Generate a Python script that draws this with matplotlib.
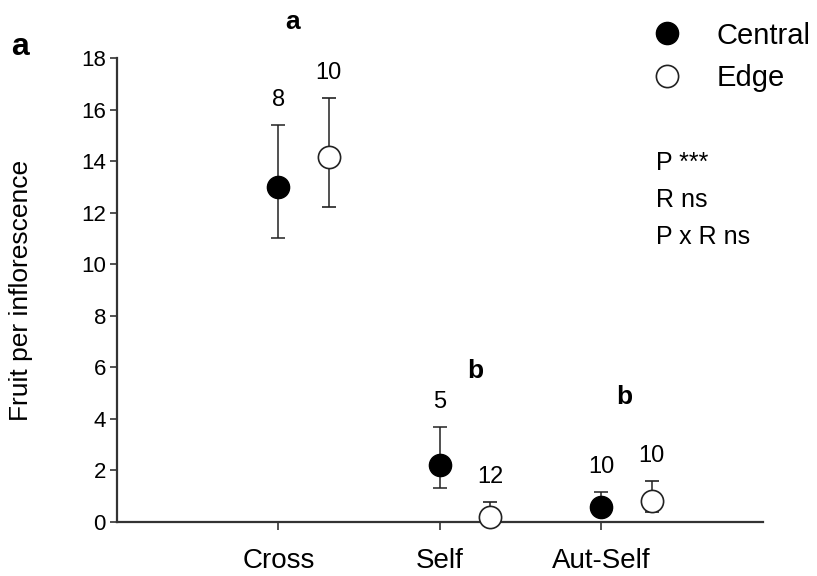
import matplotlib
matplotlib.use('Agg')
import matplotlib.pyplot as plt
import numpy as np

plt.rcParams['font.family'] = ['Liberation Sans', 'DejaVu Sans']

CATEGORIES = ['Cross', 'Self', 'Aut-Self']
CENTRAL_MEAN = [13.0, 2.2, 0.57]
CENTRAL_LOW = [11.0, 1.3, 0.57]
CENTRAL_HIGH = [15.4, 3.7, 1.18]
EDGE_MEAN = [14.15, 0.18, 0.80]
EDGE_LOW = [12.2, 0.18, 0.39]
EDGE_HIGH = [16.45, 0.78, 1.58]
CENTRAL_N = ['8', '5', '10']
EDGE_N = ['10', '12', '10']
GROUP_LETTERS = ['a', 'b', 'b']
STATS_LINES = ['P ***', 'R ns', 'P x R ns']

xpos = np.arange(1, len(CATEGORIES) + 1)
edge_shift = 0.31

fig = plt.figure(figsize=(8.17, 5.76), dpi=100)
ax = fig.add_axes([0.1432, 0.0938, 0.7907, 0.8056])

cm = np.array(CENTRAL_MEAN)
em = np.array(EDGE_MEAN)
c_err = [cm - np.array(CENTRAL_LOW), np.array(CENTRAL_HIGH) - cm]
e_err = [em - np.array(EDGE_LOW), np.array(EDGE_HIGH) - em]

hc = ax.errorbar(xpos, cm, yerr=c_err, fmt='o', color='black', ecolor='#222222',
                 elinewidth=1.1, capsize=5, capthick=1.1, markersize=16,
                 markerfacecolor='black', markeredgecolor='black', zorder=3, clip_on=False)
he = ax.errorbar(xpos + edge_shift, em, yerr=e_err, fmt='o', color='black', ecolor='#222222',
                 elinewidth=1.1, capsize=5, capthick=1.1, markersize=16,
                 markerfacecolor='white', markeredgecolor='#222222', markeredgewidth=1.2,
                 zorder=3, clip_on=False)

for i in range(len(CATEGORIES)):
    ax.annotate(CENTRAL_N[i], (xpos[i], CENTRAL_HIGH[i]), xytext=(0, 10),
                textcoords='offset points', ha='center', va='bottom', fontsize=17)
    ax.annotate(EDGE_N[i], (xpos[i] + edge_shift, EDGE_HIGH[i]), xytext=(0, 10),
                textcoords='offset points', ha='center', va='bottom', fontsize=17)

letter_xy = [(1.087, 19.4), (2.22, 5.86), (3.14, 4.85)]
for (lx, ly), lt in zip(letter_xy, GROUP_LETTERS):
    ax.text(lx, ly, lt, ha='center', va='center', fontsize=19, fontweight='bold', clip_on=False)

ax.set_xlim(0, 4)
ax.set_ylim(0, 18)
ax.set_xticks(xpos)
ax.set_xticklabels(CATEGORIES, fontsize=20)
ax.set_yticks(np.arange(0, 19, 2))
ax.tick_params(axis='y', labelsize=16, length=5, width=1.2, color='#333333', pad=3)
ax.tick_params(axis='x', length=6, width=1.2, color='#333333', pad=13)
for s in ['top', 'right']:
    ax.spines[s].set_visible(False)
for s in ['left', 'bottom']:
    ax.spines[s].set_linewidth(1.6)
    ax.spines[s].set_color('#333333')

ax.set_ylabel('Fruit per inflorescence', fontsize=19)
ax.yaxis.set_label_coords(-0.13, 0.5)

fig.text(0.025, 0.918, 'a', fontsize=23, fontweight='bold', ha='center', va='center')

leg = fig.legend([hc[0], he[0]], ['Central', 'Edge'], loc='upper left',
                 bbox_to_anchor=(0.766, 1.008), frameon=False, fontsize=21,
                 handlelength=1.0, handletextpad=1.2, labelspacing=0.5,
                 numpoints=1)
for h in leg.legend_handles:
    h.set_markersize(16)

for k, line in enumerate(STATS_LINES):
    fig.text(0.803, 1 - (163 + 37 * k) / 576, line, fontsize=18, ha='left', va='center')

fig.savefig('out.png', dpi=100)
